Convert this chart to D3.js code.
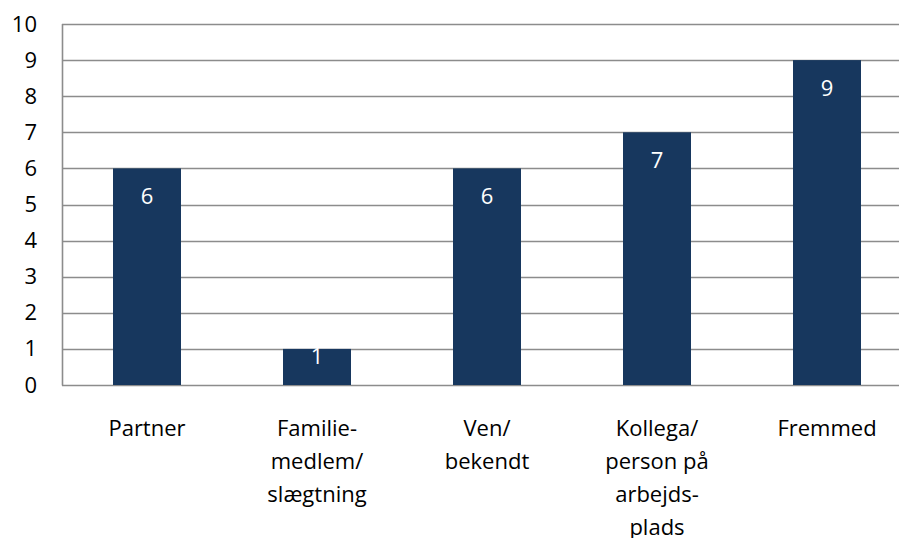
<!DOCTYPE html>
<html><head><meta charset="utf-8">
<script src="https://cdn.jsdelivr.net/npm/d3@7/dist/d3.min.js"></script>
<style>body{margin:0;background:#fff}svg{display:block}text{font-family:"Open Sans",sans-serif}</style>
</head><body><svg id="c" width="899" height="538"></svg>
<script>
const categories = [["Partner"],["Familie-","medlem/","slægtning"],["Ven/","bekendt"],["Kollega/","person på","arbejds-","plads"],["Fremmed"]];
const values = [6,1,6,7,9];
const yTicks = [0,1,2,3,4,5,6,7,8,9,10];

const svg = d3.select("#c");
const mLeft = 62, mRight = 912, mTop = 24, mBottom = 385;
const fs = 22;
const x = d3.scaleBand().domain(d3.range(values.length)).range([mLeft,mRight]).paddingInner(0.6).paddingOuter(0.3);
const y = d3.scaleLinear().domain([0,10]).range([mBottom,mTop]);

// gridlines
svg.append("g").selectAll("line").data(yTicks).join("line")
  .attr("x1",mLeft).attr("x2",899).attr("y1",d=>Math.round(y(d))+0.5).attr("y2",d=>Math.round(y(d))+0.5)
  .attr("stroke","#8c8c8c").attr("stroke-width",1.6);
svg.append("line").attr("x1",mLeft+0.5).attr("x2",mLeft+0.5).attr("y1",mTop).attr("y2",mBottom+0.5)
  .attr("stroke","#8c8c8c").attr("stroke-width",1.6);

// y tick labels
const yAxis = d3.axisLeft(y).tickValues(yTicks).tickSize(0).tickPadding(27);
const ga = svg.append("g").attr("transform",`translate(${mLeft+2},0)`).call(yAxis);
ga.select(".domain").remove();
ga.selectAll("text").attr("font-size",fs).attr("fill","#000").style("font-family","'Open Sans',sans-serif");

// bars
svg.append("g").selectAll("rect").data(values).join("rect")
  .attr("x",(d,i)=>x(i)).attr("width",x.bandwidth())
  .attr("y",d=>y(d)).attr("height",d=>y(0)-y(d))
  .attr("fill","#17375e");

// value labels
svg.append("g").selectAll("text").data(values).join("text")
  .attr("x",(d,i)=>x(i)+x.bandwidth()/2).attr("y",d=>y(d)+Math.min(30,(y(0)-y(d))*0.25))
  .attr("text-anchor","middle").attr("dominant-baseline","middle")
  .attr("fill","#fff").attr("font-size",fs).text(d=>d);

// category labels
const cg = svg.append("g").selectAll("text").data(categories).join("text")
  .attr("text-anchor","middle").attr("font-size",fs).attr("fill","#000");
cg.each(function(lines,i){
  d3.select(this).selectAll("tspan").data(lines).join("tspan")
    .attr("x",x(i)+x.bandwidth()/2).attr("y",(d,j)=>436+j*33).text(d=>d);
});
</script></body></html>
